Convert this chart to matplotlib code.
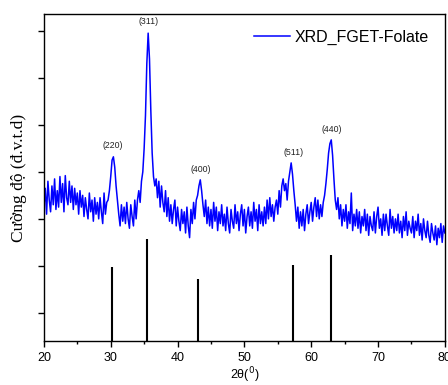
import matplotlib
matplotlib.use("Agg")
import matplotlib.pyplot as plt
import numpy as np

# XRD trace, 20..80 deg, 0.2 deg step (arbitrary units)
two_theta = np.round(np.linspace(20, 80, 301), 1)
intensity = [
    285, 325, 270, 340, 300, 275, 330, 290, 345, 280,   # 20
    320, 285, 350, 295, 335, 275, 352, 305, 290, 340,   # 22
    295, 330, 280, 325, 290, 315, 270, 320, 285, 310,   # 24
    265, 305, 280, 260, 315, 275, 300, 255, 305, 270,   # 26
    295, 260, 305, 275, 250, 315, 270, 295, 300, 320,   # 28
    350, 385, 392, 370, 330, 300, 270, 245, 290, 255,   # 30
    285, 250, 295, 260, 240, 290, 265, 245, 300, 260,   # 32
    300, 320, 295, 340, 360, 410, 480, 590, 655, 600,   # 34
    490, 400, 350, 330, 345, 305, 340, 285, 330, 295,   # 36
    275, 320, 265, 305, 255, 290, 250, 280, 300, 245,   # 38
    285, 255, 235, 280, 250, 275, 230, 285, 245, 220,   # 40
    280, 250, 295, 260, 300, 310, 330, 343, 320, 290,   # 42
    265, 300, 250, 285, 245, 280, 240, 295, 255, 285,   # 44
    235, 275, 250, 290, 245, 270, 235, 285, 250, 230,   # 46
    280, 255, 240, 290, 250, 275, 235, 270, 290, 245,   # 48
    280, 230, 265, 285, 245, 275, 240, 295, 255, 280,   # 50
    235, 290, 250, 275, 245, 285, 250, 300, 260, 305,   # 52
    265, 290, 255, 285, 300, 270, 320, 285, 330, 345,   # 54
    320, 335, 300, 340, 360, 379, 355, 320, 290, 255,   # 56
    285, 240, 275, 245, 280, 235, 270, 290, 250, 275,   # 58
    295, 255, 285, 305, 265, 300, 260, 290, 265, 295,   # 60
    310, 335, 365, 400, 420, 428, 395, 345, 300, 280,   # 62
    305, 260, 290, 245, 280, 255, 290, 240, 275, 250,   # 64
    315, 235, 270, 245, 280, 240, 275, 230, 265, 245,   # 66
    280, 235, 270, 225, 265, 245, 235, 275, 230, 265,   # 68
    285, 240, 260, 225, 270, 235, 270, 245, 225, 280,   # 70
    240, 265, 230, 260, 235, 270, 230, 255, 220, 265,   # 72
    235, 275, 225, 255, 240, 230, 265, 220, 255, 235,   # 74
    270, 225, 250, 215, 260, 235, 220, 255, 225, 210,   # 76
    250, 230, 215, 245, 205, 240, 220, 250, 210, 245,   # 78
    230,                                                # 80
]

# reference pattern sticks
stick_pos = [30.2, 35.5, 43.1, 57.3, 63.0]
stick_h = [157, 217, 132, 162, 183]

# peak labels
hkl = ["(220)", "(311)", "(400)", "(511)", "(440)"]
hkl_x = [30.3, 35.7, 43.4, 57.3, 63.0]
hkl_y = [406, 670, 356, 391, 441]

fig = plt.figure(figsize=(4.48, 3.85), dpi=100)
ax = fig.add_axes([0.098, 0.114, 0.895, 0.850])

ax.plot(two_theta, intensity, color="#0000ff", lw=1.1, label="XRD_FGET-Folate")
ax.vlines(stick_pos, 0, stick_h, color="black", lw=1.5)

for t, x, y in zip(hkl, hkl_x, hkl_y):
    ax.text(x, y, t, ha="center", va="bottom", fontsize=6.3,
            family="Liberation Sans", color="#222222")

ax.set_xlim(20, 80)
ax.set_ylim(0, 696)
ax.set_xticks(range(20, 81, 10))
ax.set_xticks(range(25, 80, 10), minor=True)
ax.set_yticks(range(60, 661, 100))
ax.set_yticklabels([])
ax.tick_params(direction="out", length=4, width=1, labelsize=9)
ax.tick_params(which="minor", direction="out", length=2.5, width=1)
for lab in ax.get_xticklabels():
    lab.set_family("Liberation Sans")
for s in ax.spines.values():
    s.set_linewidth(1)

ax.set_xlabel("2θ($^0$)", fontsize=9, family="Liberation Sans", labelpad=1)
ax.set_ylabel("Cường độ (đ.v.t.d)", fontsize=12.5, family="Liberation Serif", labelpad=5)

leg = ax.legend(loc="upper right", frameon=False,
                prop={"family": "Liberation Sans", "size": 11.5},
                handlelength=2.25, handletextpad=0.3, borderaxespad=0.6)

fig.savefig("out.png", dpi=100)
